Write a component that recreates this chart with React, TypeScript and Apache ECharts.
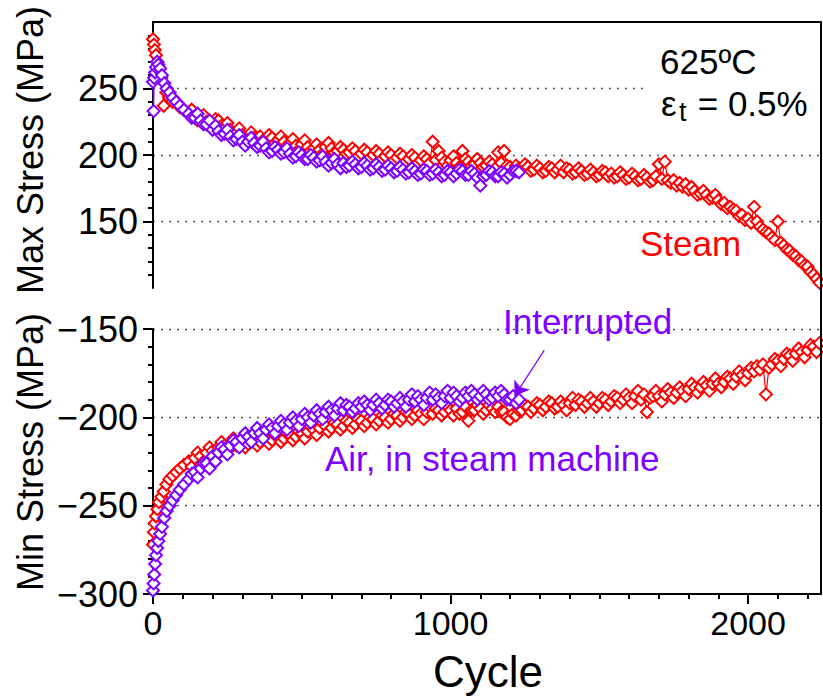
import React, { useEffect, useRef } from "react";
import * as echarts from "echarts";

// ---- data ----
const steamCycles = [
  0, 3, 6, 10, 15, 20, 28, 36, 45, 55, 66, 78, 90, 104,
  120, 130, 140, 150, 160, 170, 180, 190, 200, 210, 220, 230, 240, 250, 260, 270, 280, 290, 300, 310,
  320, 330, 340, 350, 360, 370, 380, 390, 400, 410, 420, 430, 440, 450, 460, 470, 480, 490, 500, 510,
  520, 530, 540, 550, 560, 570, 580, 590, 600, 610, 620, 630, 640, 650, 660, 670, 680, 690, 700, 710,
  720, 730, 740, 750, 760, 770, 780, 790, 800, 810, 820, 830, 840, 850, 860, 870, 880, 890, 900, 910,
  920, 930, 940, 950, 960, 970, 980, 990, 1000, 1010, 1020, 1030, 1040, 1050, 1060, 1070, 1080, 1090, 1100, 1110,
  1120, 1130, 1140, 1150, 1160, 1170, 1180, 1190, 1200, 1210, 1220, 1230, 1240, 1250, 1260, 1270, 1280, 1290, 1300, 1310,
  1320, 1330, 1340, 1350, 1360, 1370, 1380, 1390, 1400, 1410, 1420, 1430, 1440, 1450, 1460, 1470, 1480, 1490, 1500, 1510,
  1520, 1530, 1540, 1550, 1560, 1570, 1580, 1590, 1600, 1610, 1620, 1630, 1640, 1650, 1660, 1670, 1680, 1690, 1700, 1710,
  1720, 1730, 1740, 1750, 1760, 1770, 1780, 1790, 1800, 1810, 1820, 1830, 1840, 1850, 1860, 1870, 1880, 1890, 1900, 1910,
  1920, 1930, 1940, 1950, 1960, 1970, 1980, 1990, 2000, 2010, 2020, 2030, 2040, 2050, 2060, 2070, 2080, 2090, 2100, 2110,
  2120, 2130, 2140, 2150, 2160, 2170, 2180, 2190, 2200, 2210, 2220, 2230, 2240,
];
const steamMax = [
  287, 283, 279, 275, 270, 262, 258, 237, 247, 243, 240, 240, 236, 234,
  231, 234, 229, 226, 227, 230, 225, 222, 224, 227, 226, 222, 221, 224, 219, 216, 217, 220, 215, 212,
  214, 217, 213, 210, 214, 211, 212, 215, 213, 209, 211, 214, 210, 207, 209, 212, 207, 204, 208, 211,
  206, 203, 205, 208, 204, 201, 206, 209, 205, 202, 203, 206, 204, 201, 202, 205, 203, 199, 201, 204,
  202, 198, 200, 203, 201, 197, 199, 202, 200, 196, 198, 201, 199, 195, 197, 200, 198, 194, 196, 199,
  197, 194, 210, 196, 203, 198, 195, 192, 196, 199, 194, 191, 203, 197, 195, 192, 193, 197, 194, 191,
  192, 195, 193, 190, 202, 194, 203, 192, 191, 188, 192, 190, 190, 193, 191, 188, 189, 192, 190, 187,
  188, 191, 190, 187, 189, 192, 187, 190, 189, 186, 187, 190, 188, 185, 186, 189, 187, 184, 185, 188,
  187, 184, 186, 183, 184, 187, 185, 182, 183, 186, 184, 181, 182, 185, 183, 180, 181, 184, 193, 182,
  195, 181, 179, 181, 177, 179, 176, 178, 174, 176, 173, 170, 171, 173, 170, 167, 168, 170, 166, 163,
  164, 160, 161, 159, 158, 154, 155, 151, 152, 149, 161, 150, 146, 144, 142, 141, 138, 136, 150, 134,
  132, 129, 128, 125, 124, 121, 120, 117, 116, 112, 110, 107, 104,
];
const steamMin = [
  -272, -265, -260, -256, -252, -248, -245, -242, -238, -235, -233, -231, -229, -227,
  -225, -228, -223, -220, -222, -225, -220, -217, -219, -222, -217, -214, -216, -219, -215, -212, -216, -213, -214, -217,
  -215, -212, -213, -216, -214, -211, -212, -215, -213, -210, -211, -214, -212, -209, -210, -213, -211, -208, -209, -212,
  -208, -205, -207, -210, -206, -203, -205, -208, -206, -203, -204, -207, -205, -202, -203, -206, -204, -201, -202, -205,
  -203, -200, -201, -204, -202, -199, -200, -203, -201, -198, -199, -202, -200, -197, -198, -201, -199, -196, -198, -201,
  -197, -194, -198, -195, -196, -199, -197, -194, -196, -199, -195, -198, -197, -194, -202, -196, -196, -193, -195, -198,
  -196, -193, -195, -197, -194, -197, -197, -200, -201, -198, -199, -196, -196, -193, -194, -197, -195, -192, -193, -196,
  -194, -191, -192, -195, -194, -191, -193, -196, -192, -189, -193, -190, -191, -194, -192, -189, -191, -194, -192, -189,
  -190, -193, -191, -188, -189, -192, -190, -187, -189, -192, -188, -185, -190, -187, -197, -189, -188, -185, -188, -191,
  -187, -184, -186, -189, -186, -183, -185, -188, -184, -181, -183, -186, -183, -180, -182, -185, -181, -178, -181, -183,
  -180, -177, -178, -181, -177, -174, -176, -179, -175, -172, -174, -171, -173, -170, -187, -172, -170, -167, -168, -171,
  -167, -164, -165, -168, -164, -161, -163, -166, -162, -159, -160, -163, -158,
];
const airCycles = [
  0, 2, 4, 7, 10, 14, 18, 24, 30, 38, 46, 56, 66, 78, 90, 104,
  120, 130, 140, 150, 160, 170, 180, 190, 200, 210, 220, 230, 240, 250, 260, 270, 280, 290, 300, 310,
  320, 330, 340, 350, 360, 370, 380, 390, 400, 410, 420, 430, 440, 450, 460, 470, 480, 490, 500, 510,
  520, 530, 540, 550, 560, 570, 580, 590, 600, 610, 620, 630, 640, 650, 660, 670, 680, 690, 700, 710,
  720, 730, 740, 750, 760, 770, 780, 790, 800, 810, 820, 830, 840, 850, 860, 870, 880, 890, 900, 910,
  920, 930, 940, 950, 960, 970, 980, 990, 1000, 1010, 1020, 1030, 1040, 1050, 1060, 1070, 1080, 1090, 1100, 1110,
  1120, 1130, 1140, 1150, 1160, 1170, 1180, 1190, 1200, 1210, 1220, 1230,
];
const airMax = [
  255, 233, 258, 262, 266, 270, 268, 265, 260, 254, 250, 247, 243, 240, 237, 234,
  231, 228, 228, 231, 226, 223, 223, 226, 219, 222, 218, 215, 216, 219, 214, 211, 212, 215, 210, 207,
  210, 213, 209, 206, 207, 210, 205, 202, 203, 206, 204, 201, 202, 205, 201, 198, 199, 202, 200, 197,
  197, 200, 198, 195, 196, 199, 195, 192, 194, 197, 193, 190, 194, 191, 192, 195, 193, 190, 191, 194,
  192, 189, 190, 193, 191, 188, 189, 192, 190, 187, 188, 191, 189, 186, 187, 190, 188, 185, 186, 189,
  188, 185, 186, 189, 187, 184, 185, 188, 187, 184, 186, 189, 188, 185, 185, 188, 186, 183, 177, 184,
  185, 188, 187, 184, 184, 187, 186, 183, 185, 188, 188, 187,
];
const airMin = [
  -298, -294, -289, -283, -278, -274, -270, -266, -262, -257, -253, -250, -247, -244, -241, -238,
  -235, -232, -231, -234, -229, -226, -226, -229, -222, -225, -220, -217, -218, -221, -216, -213, -214, -217, -212, -209,
  -211, -214, -209, -206, -209, -212, -207, -204, -206, -209, -205, -202, -204, -207, -203, -200, -202, -205, -201, -198,
  -200, -203, -199, -196, -198, -201, -197, -194, -196, -199, -195, -192, -196, -193, -194, -197, -195, -192, -194, -191,
  -193, -196, -193, -190, -192, -195, -193, -190, -191, -194, -192, -189, -191, -194, -190, -187, -191, -188, -190, -193,
  -189, -186, -190, -187, -189, -192, -188, -185, -189, -186, -188, -191, -189, -186, -188, -185, -187, -190, -188, -185,
  -187, -190, -189, -186, -188, -185, -187, -190, -190, -188, -192, -190,
];
const interruptArrow = [
  [1315, -162],
  [1215, -188],
];
const xMajorTicks = [0, 1000, 2000];
const xMinorTicks = [
  100, 200, 300, 400, 500, 600, 700, 800, 900, 1100, 1200, 1300, 1400, 1500,
  1600, 1700, 1800, 1900, 2100, 2200,
];
const maxStressTicks = [150, 200, 250];
const minStressTicks = [-300, -250, -200, -150];

const RED = "#FF0000";
const PURPLE = "#7F00FF";
const FONT = "'Liberation Sans', Arial, Helvetica, sans-serif";

export default function App() {
  const ref = useRef<HTMLDivElement>(null);

  useEffect(() => {
    if (!ref.current) return;
    const chart = echarts.init(ref.current, null, { renderer: "svg" });

    const pair = (xs: number[], ys: number[]) => xs.map((x, i) => [x, ys[i]]);

    const axisLine = { show: true, lineStyle: { color: "#000", width: 2 } };
    const gridLineStyle = { color: "#555", width: 1.4, type: [2, 6] };
    const xTickLabel = { color: "#000", fontSize: 34, fontFamily: FONT };
    const yTickLabel = { color: "#000", fontSize: 36, fontFamily: FONT };

    const markerSeries = (
      name: string,
      data: number[][],
      color: string,
      xi: number,
      yi: number,
      z: number,
      extra: any = {}
    ) => ({
      type: "line",
      name,
      xAxisIndex: xi,
      yAxisIndex: yi,
      data,
      symbol: "diamond",
      symbolSize: 12,
      showAllSymbol: true,
      itemStyle: { color: "#fff", borderColor: color, borderWidth: 2 },
      lineStyle: { color, width: 1.2 },
      emphasis: { disabled: true },
      z,
      ...extra,
    });

    const option: any = {
      animation: false,
      grid: [
        { left: 153, right: 2, top: 22, height: 266 },
        { left: 153, right: 2, top: 329, height: 265 },
      ],
      xAxis: [
        {
          gridIndex: 0,
          type: "value",
          min: 0,
          max: 2245,
          position: "top",
          axisLine,
          axisTick: { show: false },
          axisLabel: { show: false },
          splitLine: { show: false },
        },
        {
          gridIndex: 1,
          type: "value",
          min: 0,
          max: 2245,
          interval: 1000,
          position: "bottom",
          axisLine,
          axisTick: {
            show: true,
            inside: false,
            length: 10,
            customValues: xMajorTicks,
            lineStyle: { color: "#000", width: 2 },
          },
          axisLabel: {
            ...xTickLabel,
            margin: 12,
            customValues: xMajorTicks,
            formatter: (v: number) => (xMajorTicks.includes(v) ? String(v) : ""),
          },
          splitLine: { show: false },
        },
        {
          gridIndex: 1,
          type: "value",
          min: 0,
          max: 2245,
          interval: 100,
          position: "bottom",
          axisLine: { show: false },
          axisTick: {
            show: true,
            inside: false,
            length: 5,
            customValues: xMinorTicks,
            lineStyle: { color: "#000", width: 2 },
          },
          axisLabel: { show: false },
          splitLine: { show: false },
        },
      ],
      yAxis: [
        {
          gridIndex: 0,
          type: "value",
          min: 100,
          max: 300,
          interval: 50,
          axisLine,
          axisTick: {
            show: true,
            length: 10,
            customValues: maxStressTicks,
            lineStyle: { color: "#000", width: 2 },
          },
          minorTick: {
            show: true,
            splitNumber: 5,
            length: 5,
            lineStyle: { color: "#000", width: 2 },
          },
          axisLabel: {
            ...yTickLabel,
            margin: 15,
            formatter: (v: number) => (maxStressTicks.includes(v) ? String(v) : ""),
          },
          splitLine: { show: true, lineStyle: gridLineStyle },
        },
        {
          gridIndex: 1,
          type: "value",
          min: -300,
          max: -150,
          interval: 50,
          axisLine,
          axisTick: {
            show: true,
            length: 10,
            lineStyle: { color: "#000", width: 2 },
          },
          minorTick: {
            show: true,
            splitNumber: 5,
            length: 5,
            lineStyle: { color: "#000", width: 2 },
          },
          axisLabel: {
            ...yTickLabel,
            margin: 15,
            formatter: (v: number) =>
              minStressTicks.includes(v) ? String(v).replace("-", "\u2212") : "",
          },
          splitLine: { show: true, showMinLine: false, showMaxLine: true, lineStyle: gridLineStyle },
        },
      ],
      series: [
        markerSeries("Steam max", pair(steamCycles, steamMax), RED, 0, 0, 2),
        markerSeries("Air max", pair(airCycles, airMax), PURPLE, 0, 0, 3),
        markerSeries("Steam min", pair(steamCycles, steamMin), RED, 1, 1, 2),
        markerSeries("Air min", pair(airCycles, airMin), PURPLE, 1, 1, 3, {
          markLine: {
            silent: true,
            symbol: ["none", "arrow"],
            symbolSize: 14,
            label: { show: false },
            lineStyle: { color: PURPLE, width: 1.2, type: "solid" },
            data: [[{ coord: interruptArrow[0] }, { coord: interruptArrow[1] }]],
          },
        }),
      ],
      graphic: [
        {
          type: "line",
          shape: { x1: 821, y1: 22, x2: 821, y2: 595 },
          style: { stroke: "#000", lineWidth: 2 },
          z: 10,
        },
        {
          type: "rect",
          shape: { x: 648, y: 36, width: 172, height: 88 },
          style: { fill: "#fff" },
          z: 50,
        },
        {
          type: "text",
          x: 660,
          y: 61,
          z: 60,
          style: { text: "625ºC", fontSize: 35, fontFamily: FONT, fill: "#000", verticalAlign: "middle" },
        },
        {
          type: "text",
          x: 661,
          y: 103,
          z: 60,
          style: { text: "ε", fontSize: 35, fontFamily: FONT, fill: "#000", verticalAlign: "middle" },
        },
        {
          type: "text",
          x: 679,
          y: 112,
          z: 60,
          style: { text: "t", fontSize: 27, fontFamily: FONT, fill: "#000", verticalAlign: "middle" },
        },
        {
          type: "text",
          x: 688,
          y: 103,
          z: 60,
          style: { text: " = 0.5%", fontSize: 35, fontFamily: FONT, fill: "#000", verticalAlign: "middle" },
        },
        {
          type: "text",
          x: 640,
          y: 243,
          z: 60,
          style: { text: "Steam", fontSize: 35, fontFamily: FONT, fill: RED, verticalAlign: "middle" },
        },
        {
          type: "text",
          x: 503,
          y: 321,
          z: 60,
          style: { text: "Interrupted", fontSize: 35, fontFamily: FONT, fill: PURPLE, verticalAlign: "middle" },
        },
        {
          type: "text",
          x: 325,
          y: 458,
          z: 60,
          style: {
            text: "Air, in steam machine",
            fontSize: 35,
            fontFamily: FONT,
            fill: PURPLE,
            verticalAlign: "middle",
          },
        },
        {
          type: "text",
          x: 30,
          y: 150,
          rotation: Math.PI / 2,
          z: 60,
          style: {
            text: "Max Stress (MPa)",
            fontSize: 36,
            fontFamily: FONT,
            fill: "#000",
            align: "center",
            verticalAlign: "middle",
          },
        },
        {
          type: "text",
          x: 30,
          y: 452,
          rotation: Math.PI / 2,
          z: 60,
          style: {
            text: "Min Stress (MPa)",
            fontSize: 36,
            fontFamily: FONT,
            fill: "#000",
            align: "center",
            verticalAlign: "middle",
          },
        },
        {
          type: "text",
          x: 488,
          y: 671,
          z: 60,
          style: {
            text: "Cycle",
            fontSize: 44,
            fontFamily: FONT,
            fill: "#000",
            align: "center",
            verticalAlign: "middle",
          },
        },
      ],
    };

    chart.setOption(option);
    return () => chart.dispose();
  }, []);

  return (
    <div
      ref={ref}
      style={{ position: "fixed", left: 0, top: 0, width: 823, height: 697, background: "#fff" }}
    />
  );
}
